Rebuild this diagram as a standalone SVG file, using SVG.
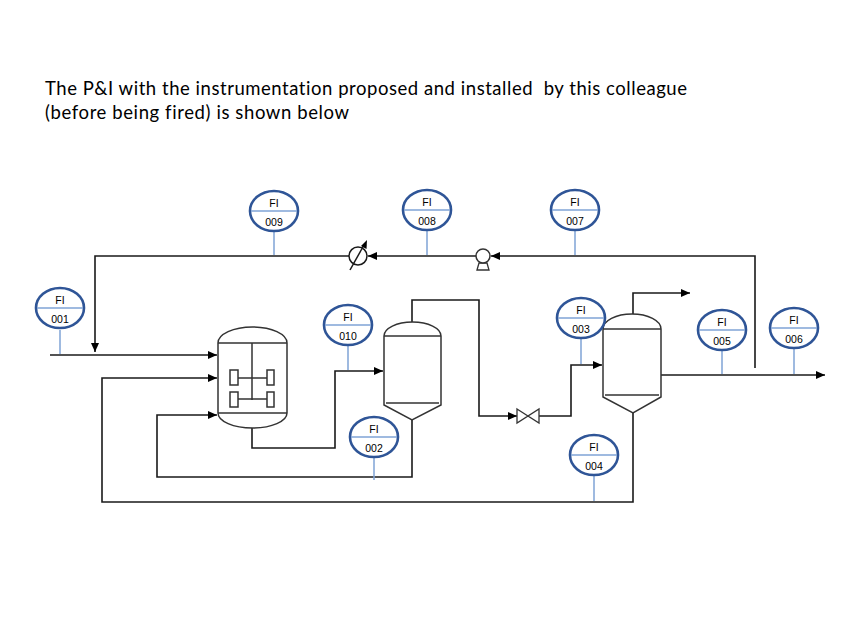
<svg xmlns="http://www.w3.org/2000/svg" width="848" height="636" viewBox="0 0 848 636">
<defs>
<marker id="arr" viewBox="0 0 9 8" refX="9" refY="4" markerWidth="9" markerHeight="8" markerUnits="userSpaceOnUse" orient="auto">
<path d="M0,0 L9,4 L0,8 Z" fill="#000"/>
</marker>
</defs>
<style>
.title{font-family:Lato,"Open Sans",sans-serif;font-size:18.5px;fill:#000;white-space:pre;font-variant-ligatures:none}
.pipe{fill:none;stroke:#1a1a1a;stroke-width:1.6}
.vessel{fill:#fff;stroke:#333;stroke-width:1.5}
.inner{fill:none;stroke:#333;stroke-width:1.5}
.bub{fill:#fff;stroke:#2f5597;stroke-width:2.6}
.bubline{stroke:#7fa3d6;stroke-width:1.3}
.stem{stroke:#7fa3d6;stroke-width:1.5}
.itxt{font-family:"Liberation Sans",Arial,sans-serif;font-size:10.5px;fill:#000;text-anchor:middle}
</style>
<rect width="848" height="636" fill="#fff"/>
<text class="title" x="45" y="95" xml:space="preserve" textLength="642" lengthAdjust="spacing">The P&amp;I with the instrumentation proposed and installed  by this colleague</text>
<text class="title" x="45" y="119" textLength="304" lengthAdjust="spacing">(before being fired) is shown below</text>

<g id="connectors">
<path class="pipe" d="M50,355 H217" marker-end="url(#arr)"/>
<path class="pipe" d="M755,368 V256 H491" marker-end="url(#arr)"/>
<path class="pipe" d="M476,256 H368" marker-end="url(#arr)"/>
<path class="pipe" d="M349,256 H95 V352" marker-end="url(#arr)"/>
<path class="pipe" d="M633,413 V502 H102 V378 H217" marker-end="url(#arr)"/>
<path class="pipe" d="M412,420 V477 H157 V415 H217" marker-end="url(#arr)"/>
<path class="pipe" d="M252,428 V448 H335 V371 H383" marker-end="url(#arr)"/>
<path class="pipe" d="M412,322 V300 H479 V416 H517" marker-end="url(#arr)"/>
<path class="pipe" d="M539,416 H571 V365 H602" marker-end="url(#arr)"/>
<path class="pipe" d="M633,314 V293 H690" marker-end="url(#arr)"/>
<path class="pipe" d="M657,375 H825" marker-end="url(#arr)"/>
<line class="stem" x1="60" y1="330" x2="60" y2="354"/>
<line class="stem" x1="274" y1="231" x2="274" y2="255"/>
<line class="stem" x1="427" y1="230" x2="427" y2="255"/>
<line class="stem" x1="575" y1="230" x2="575" y2="255"/>
<line class="stem" x1="348" y1="345" x2="348" y2="370"/>
<line class="stem" x1="374" y1="457" x2="374" y2="480"/>
<line class="stem" x1="581" y1="338" x2="581" y2="364"/>
<line class="stem" x1="594" y1="475" x2="594" y2="501"/>
<line class="stem" x1="722" y1="350" x2="722" y2="374"/>
<line class="stem" x1="794" y1="348" x2="794" y2="374"/>
</g>

<g id="reactor">
<path class="vessel" d="M218,343 A34.5,16 0 0 1 287,343 V413 A34.5,15 0 0 1 218,413 Z"/>
<path class="inner" d="M218,343 H287 M218,413 H287 M252,343 V400 M238,378 H267 M238,399 H267"/>
<rect class="inner" x="230" y="370" width="8" height="15"/>
<rect class="inner" x="267" y="370" width="7" height="15"/>
<rect class="inner" x="230" y="392" width="8" height="15"/>
<rect class="inner" x="267" y="392" width="7" height="15"/>
</g>

<g id="column1">
<path class="vessel" d="M384,336 A28.5,14 0 0 1 441,336 V405 L412,420 L384,405 Z"/>
<path class="inner" d="M384,336 H441 M386,403 H439"/>
</g>

<g id="vessel2">
<path class="vessel" d="M603,329 A29,15 0 0 1 661,329 V397 L633,413 L603,397 Z"/>
<path class="inner" d="M603,329 H661 M605,395 H659"/>
</g>

<g id="control-valve">
<circle cx="358" cy="256" r="9" fill="#fff" stroke="#1a1a1a" stroke-width="1.5"/>
<line x1="350" y1="270" x2="364" y2="245" stroke="#1a1a1a" stroke-width="1.5"/>
<path d="M367,240 L366.5,249 L361,246 Z" fill="#000"/>
</g>

<g id="pump">
<path d="M477,270 L479,263 H487 L489,270 Z" fill="#fff" stroke="#333" stroke-width="1.3"/>
<circle cx="483" cy="256" r="7" fill="#fff" stroke="#333" stroke-width="1.5"/>
</g>

<g id="valve">
<path d="M517,409 L539,423 V409 L517,423 Z" fill="#fff" stroke="#333" stroke-width="1.3"/>
</g>

<g id="FI001" transform="translate(60,308)">
<ellipse class="bub" rx="24" ry="20"/><line class="bubline" x1="-23" y1="0" x2="23" y2="0"/>
<text class="itxt" y="-4">FI</text><text class="itxt" y="15">001</text>
</g>
<g id="FI009" transform="translate(274,211)">
<ellipse class="bub" rx="24" ry="20"/><line class="bubline" x1="-23" y1="0" x2="23" y2="0"/>
<text class="itxt" y="-4">FI</text><text class="itxt" y="15">009</text>
</g>
<g id="FI008" transform="translate(427,210)">
<ellipse class="bub" rx="24" ry="20"/><line class="bubline" x1="-23" y1="0" x2="23" y2="0"/>
<text class="itxt" y="-4">FI</text><text class="itxt" y="15">008</text>
</g>
<g id="FI007" transform="translate(575,210)">
<ellipse class="bub" rx="24" ry="20"/><line class="bubline" x1="-23" y1="0" x2="23" y2="0"/>
<text class="itxt" y="-4">FI</text><text class="itxt" y="15">007</text>
</g>
<g id="FI010" transform="translate(348,325)">
<ellipse class="bub" rx="24" ry="20"/><line class="bubline" x1="-23" y1="0" x2="23" y2="0"/>
<text class="itxt" y="-4">FI</text><text class="itxt" y="15">010</text>
</g>
<g id="FI002" transform="translate(374,437)">
<ellipse class="bub" rx="24" ry="20"/><line class="bubline" x1="-23" y1="0" x2="23" y2="0"/>
<text class="itxt" y="-4">FI</text><text class="itxt" y="15">002</text>
</g>
<g id="FI003" transform="translate(581,318)">
<ellipse class="bub" rx="24" ry="20"/><line class="bubline" x1="-23" y1="0" x2="23" y2="0"/>
<text class="itxt" y="-4">FI</text><text class="itxt" y="15">003</text>
</g>
<g id="FI004" transform="translate(594,455)">
<ellipse class="bub" rx="24" ry="20"/><line class="bubline" x1="-23" y1="0" x2="23" y2="0"/>
<text class="itxt" y="-4">FI</text><text class="itxt" y="15">004</text>
</g>
<g id="FI005" transform="translate(722,330)">
<ellipse class="bub" rx="24" ry="20"/><line class="bubline" x1="-23" y1="0" x2="23" y2="0"/>
<text class="itxt" y="-4">FI</text><text class="itxt" y="15">005</text>
</g>
<g id="FI006" transform="translate(794,328)">
<ellipse class="bub" rx="24" ry="20"/><line class="bubline" x1="-23" y1="0" x2="23" y2="0"/>
<text class="itxt" y="-4">FI</text><text class="itxt" y="15">006</text>
</g>
</svg>
